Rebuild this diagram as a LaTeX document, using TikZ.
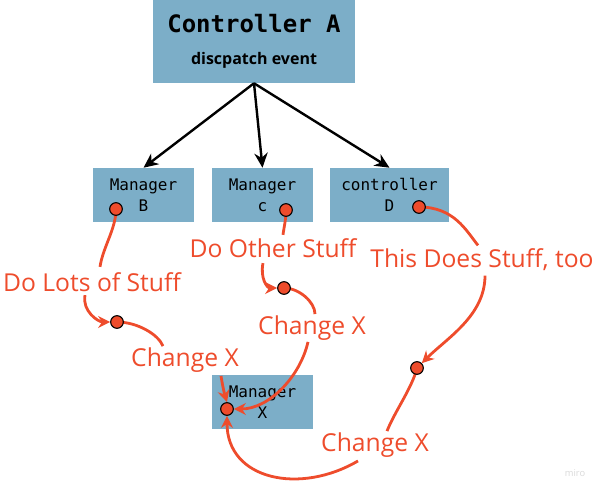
\documentclass[tikz,border=0pt]{standalone}
\usepackage{fontspec}
\setmainfont{Open Sans}
\setmonofont{DejaVu Sans Mono}
\usepackage{tikz}
\usetikzlibrary{arrows.meta,calc}
\pgfdeclarelayer{front}
\pgfsetlayers{main,front}
\definecolor{boxblue}{RGB}{124,174,200}
\definecolor{flowred}{RGB}{238,76,44}
\tikzset{
	box/.style={fill=boxblue, minimum width=75.75pt, minimum height=40.5pt, inner sep=0pt, align=center, font=\ttfamily\fontsize{12}{15.75}\selectfont},
	dot/.style={circle, draw=black, fill=flowred, line width=0.8pt, minimum size=9.5pt, inner sep=0pt},
	note/.style={text=flowred, inner sep=1pt, font=\fontsize{18.5}{22}\selectfont},
	redline/.style={draw=flowred, line width=2.1pt},
	redarrow/.style={redline, -{Stealth[length=9pt,width=9pt]}},
	blackarrow/.style={draw=black, line width=1.8pt, -{Stealth[length=11pt,width=10pt]}}
}

\begin{document}
\begin{tikzpicture}[x=0.75pt, y=-0.75pt]
			%%%%% START %%%%%
			\useasboundingbox (0, 0) rectangle (600, 492);
			
			\node[box, minimum width=151.5pt, minimum height=62.25pt] (ctrlA) at (254, 41.5)
				{{\fontsize{18}{20}\selectfont\bfseries Controller A}\\[8pt]{\rmfamily\bfseries\fontsize{12}{14}\selectfont discpatch event}};
			
			\node[box] (mgrB) at (143.5, 195) {Manager\\B};
			\node[box] (mgrC) at (262.5, 195) {Manager\\c};
			\node[box, minimum width=89.25pt] (ctrlD) at (389.5, 195) {controller\\D};
			\node[box] (mgrX) at (262.5, 402) {Manager\\X};
			
			\draw[blackarrow] (ctrlA.south) -- (mgrB.north);
			\draw[blackarrow] (ctrlA.south) -- (mgrC.north);
			\draw[blackarrow] (ctrlA.south) -- (ctrlD.north);
			
			\node[note] (lots) at (92, 282) {Do Lots of Stuff};
			\node[note] (other) at (273, 248) {Do Other Stuff};
			\node[note] (doestoo) at (482, 260) {This Does Stuff, too};
			\node[note] (chgB) at (185, 360) {Change X};
			\node[note] (chgC) at (312, 328) {Change X};
			\node[note] (chgD) at (375, 445) {Change X};
			
			\begin{pgfonlayer}{front}
			\node[dot] (dotB) at (116, 209) {};
			\node[dot] (dotC) at (286, 210) {};
			\node[dot] (dotD) at (419, 207) {};
			\node[dot] (dotB2) at (117, 322) {};
			\node[dot] (dotC2) at (284, 288) {};
			\node[dot] (dotD2) at (417, 368) {};
			\node[dot] (dotX) at (227, 409) {};
			\end{pgfonlayer}
			
			% path of B
			\draw[redline] (dotB.center) .. controls +(0, 20) and +(3, -20) .. ($(lots.north)+(8, -4)$);
			\draw[redarrow] ($(lots.south)+(-7, 2)$) .. controls +(-3, 16) and +(-12, 0) .. (dotB2.west);
			\draw[redline] (dotB2.center) .. controls +(20, 0) and +(-5, -12) .. ($(chgB.north)+(-22, 0)$);
			\draw[redarrow] ($(chgB.south)+(36, 2)$) .. controls +(2, 12) and +(-3, -10) .. (dotX.north);
			
			% path of c
			\draw[redline] (dotC.center) .. controls +(0, 10) and +(1, -8) .. ($(other.north)+(10, -2)$);
			\draw[redarrow] ($(other.south)+(-10, 4)$) .. controls +(-3, 15) and +(-10, 0) .. (dotC2.west);
			\draw[redline] (dotC2.center) .. controls +(15, 0) and +(0, -12) .. ($(chgC.north)+(3, 0)$);
			\draw[redarrow] ($(chgC.south)+(-4, 0)$) .. controls +(-8, 35) and +(35, 0) .. (dotX.east);
			
			% path of D
			\draw[redline] (dotD.center) .. controls +(35, 0) and +(-12, -15) .. ($(doestoo.north)+(-4, -2)$);
			\draw[redarrow] ($(doestoo.south)+(3, 3)$) .. controls +(0, 40) and +(25, -25) .. (dotD2.north east);
			\draw[redline] (dotD2.center) .. controls +(-5, 20) and +(8, -20) .. ($(chgD.north)+(12, 0)$);
			\draw[redarrow] ($(chgD.south)+(-17, 2)$) .. controls (300, 495) and (227, 480) .. (dotX.south);
			
			\node[text=black!15, font=\fontsize{7}{8}\selectfont] (miro) at (575, 473) {miro};
			%%%%% END %%%%%
\end{tikzpicture}
\end{document}
